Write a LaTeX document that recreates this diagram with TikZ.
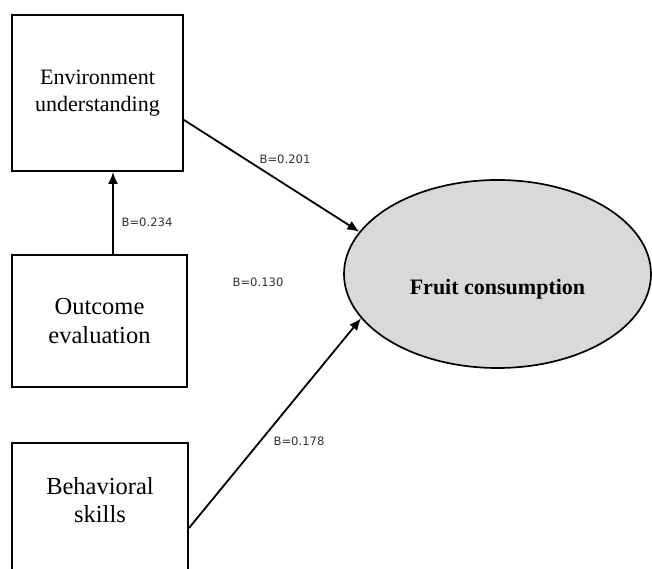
\documentclass[tikz,border=0pt]{standalone}
\usepackage{fontspec}
\setmainfont{Liberation Serif}
\newfontfamily\coeffont{DejaVu Sans}
\usetikzlibrary{arrows.meta,shapes.geometric}
\begin{document}
\begin{tikzpicture}[x=1pt,y=1pt,
    factor/.style={draw,line width=2pt,align=center,font=\fontsize{22}{27}\selectfont},
    bigtext/.style={font=\fontsize{24.5}{28.5}\selectfont},
    target/.style={draw,ellipse,line width=1.7pt,fill=black!15},
    path/.style={line width=1.8pt,-{Latex[length=12pt,width=10pt]}},
    coef/.style={font=\coeffont\fontsize{11.6}{14}\selectfont,text=black!80}]
    \useasboundingbox (0,0) rectangle (652,569);

    \node[factor,minimum width=171pt,minimum height=156pt] (envbox) at (97.5,476) {Environment\\understanding};
    \node[factor,bigtext,minimum width=175pt,minimum height=132pt] (outbox) at (99.5,248) {Outcome\\evaluation};
    \node[factor,minimum width=176pt,minimum height=170pt] (behbox) at (100,41) {};
    \node[bigtext,align=center] (behtext) at (100,69) {Behavioral\\skills};

    \node[target,minimum width=307pt,minimum height=188pt] (fruit) at (497.5,295) {};
    \node[font=\fontsize{22}{27}\selectfont\bfseries] (fruittext) at (497.5,280) {Fruit consumption};

    \draw[path] ([yshift=-27pt]envbox.east) -- (fruit.163);
    \draw[path] (behbox.east) -- (fruit.198);
    \draw[path] ([xshift=13.5pt]outbox.north) -- ([xshift=13.5pt]outbox.north |- envbox.south);

    \node[coef] (c1) at (285,410) {B=0.201};
    \node[coef] (c2) at (147,347) {B=0.234};
    \node[coef] (c3) at (258,287) {B=0.130};
    \node[coef] (c4) at (299,128) {B=0.178};
\end{tikzpicture}
\end{document}
